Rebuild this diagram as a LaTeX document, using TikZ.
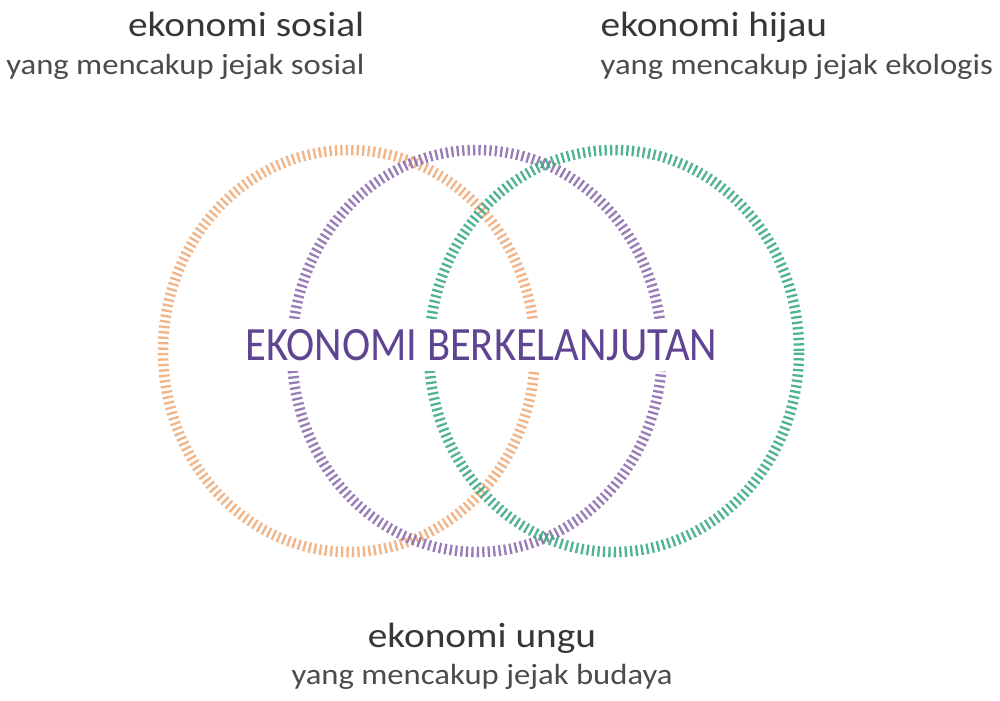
\documentclass[tikz,border=0pt]{standalone}
\usepackage{fontspec}
\setmainfont{Carlito}
\newfontfamily\sempit[FakeStretch=0.89]{Carlito}
\newfontfamily\lebar[FakeStretch=1.12]{Carlito}
\definecolor{oranye}{RGB}{240,172,122}
\definecolor{unguring}{RGB}{140,110,175}
\definecolor{hijau}{RGB}{60,170,135}
\definecolor{ungutulis}{RGB}{95,68,145}
\definecolor{abu}{RGB}{55,55,55}
\tikzset{
    cincin/.style={line width=3pt, dash pattern=on 0.65pt off 0.9pt, opacity=0.9},
    judul/.style={text=abu, font=\lebar\fontsize{10}{11}\selectfont, inner sep=0pt},
    keterangan/.style={text=abu!90, font=\lebar\fontsize{8.3}{9}\selectfont, inner sep=0pt}
}
\begin{document}
\begin{tikzpicture}
        \useasboundingbox (0, 0) rectangle (10, 7);
        %draw the three rings
        \draw[cincin, oranye] (3.49, 3.49) ellipse [x radius=1.86, y radius=2.01];
        \draw[cincin, unguring] (4.77, 3.49) ellipse [x radius=1.85, y radius=2.01];
        \draw[cincin, hijau] (6.14, 3.49) ellipse [x radius=1.85, y radius=2.01];
        %centre label
        \node[fill=white, text=ungutulis, font=\sempit\fontsize{13.6}{14}\selectfont, inner xsep=2pt, inner ysep=3pt] (pusat) at (4.815, 3.55) {EKONOMI BERKELANJUTAN};
        %labels of the rings
        \node[judul, anchor=base east] (sosial) at (3.65, 6.64) {ekonomi sosial};
        \node[keterangan, anchor=base east] (sosialket) at (3.65, 6.26) {yang mencakup jejak sosial};
        \node[judul, anchor=base west] (hijau) at (6.00, 6.64) {ekonomi hijau};
        \node[keterangan, anchor=base west] (hijauket) at (6.00, 6.26) {yang mencakup jejak ekologis};
        \node[judul, anchor=base] (ungu) at (4.82, 0.53) {ekonomi ungu};
        \node[keterangan, anchor=base] (unguket) at (4.82, 0.16) {yang mencakup jejak budaya};
    \end{tikzpicture}
\end{document}
